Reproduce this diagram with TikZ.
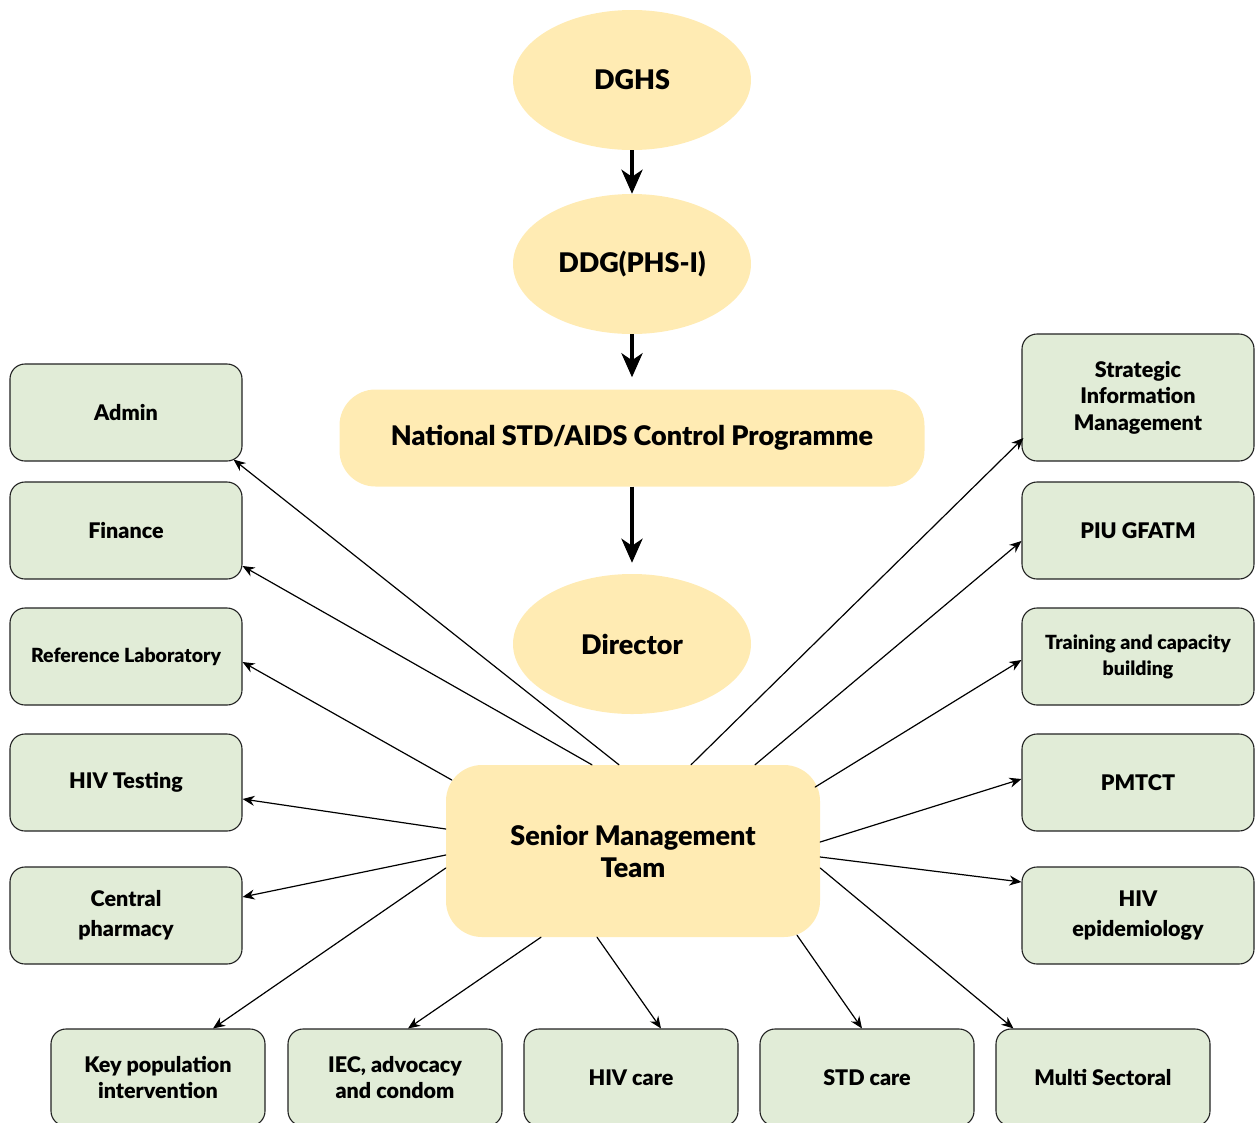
\documentclass[tikz,border=0pt]{standalone}
\usepackage{fontspec}
\setmainfont{Lato}[BoldFont={Lato Black}]
\usepackage{tikz}
\usetikzlibrary{arrows.meta, calc}
\usetikzlibrary{shapes.geometric}
\definecolor{giallo}{HTML}{FFEBB3}
\definecolor{verde}{HTML}{E1ECD7}
\definecolor{bordo}{HTML}{222222}

\begin{document}
\begin{tikzpicture}[x=1pt, y=-1pt, line cap=round,
  capo/.style={ellipse, fill=giallo, minimum width=238pt, minimum height=140pt, inner sep=0pt, font=\fontsize{27}{31}\selectfont\bfseries},
  centro/.style={rounded corners=36pt, fill=giallo, inner sep=0pt, align=center, font=\fontsize{27}{32}\selectfont\bfseries},
  ufficio/.style={draw=bordo, line width=1.1pt, rounded corners=15pt, fill=verde, minimum width=232pt, minimum height=97pt, inner sep=0pt, align=center, font=\fontsize{21.5}{26.5}\selectfont\bfseries},
  basso/.style={ufficio, minimum width=214pt},
  grossa/.style={-{Stealth[length=24pt,width=21pt,inset=7pt]}, line width=4pt, line cap=butt},
  freccia/.style={-{Stealth[length=12pt,width=10pt]}, line width=1.2pt}]

\useasboundingbox (0,0) rectangle (1255,1122);

% Catena principale
\node[capo] (dghs) at (632,80) {DGHS};
\node[capo] (ddg) at (632,264) {DDG(PHS-I)};
\node[centro, minimum width=585pt, minimum height=97pt] (nacp) at (632,438) {National STD/AIDS Control Programme};
\node[capo] (dir) at (632,644) {Director};
\node[centro, minimum width=374pt, minimum height=172pt] (smt) at (633,851) {Senior Management\\Team};

\draw[grossa] (dghs) -- (ddg);
\draw[grossa, shorten >=12pt] (ddg) -- (nacp);
\draw[grossa, shorten >=11pt] (nacp) -- (dir);

% Colonna sinistra
\node[ufficio] (admin) at (126,412.5) {Admin};
\node[ufficio] (fin) at (126,530.5) {Finance};
\node[ufficio, font=\fontsize{19.5}{24}\selectfont\bfseries] (lab) at (126,656.5) {Reference Laboratory};
\node[ufficio] (test) at (126,782.5) {HIV Testing};
\node[ufficio, font=\fontsize{21.5}{30}\selectfont\bfseries] (farm) at (126,915.5) {Central\\pharmacy};

% Colonna destra
\node[ufficio, minimum height=127pt] (sim) at (1138,397.5) {Strategic\\Information\\Management};
\node[ufficio] (piu) at (1138,530.5) {PIU GFATM};
\node[ufficio, font=\fontsize{19.5}{26}\selectfont\bfseries] (train) at (1138,656.5) {Training and capacity\\building};
\node[ufficio] (pmtct) at (1138,782.5) {PMTCT};
\node[ufficio, font=\fontsize{21.5}{30}\selectfont\bfseries] (epi) at (1138,915.5) {HIV\\epidemiology};

% Riga in basso
\node[basso] (kpi) at (158,1077.5) {Key population\\intervention};
\node[basso] (iec) at (395,1077.5) {IEC, advocacy\\and condom};
\node[basso] (care) at (631,1077.5) {HIV care};
\node[basso] (std) at (867,1077.5) {STD care};
\node[basso] (multi) at (1103,1077.5) {Multi Sectoral};

% Frecce dal Senior Management Team
\draw[freccia] ($(smt.north)+(-14,0)$) -- ($(admin.south east)+(-9,-2)$);
\draw[freccia] ($(smt.north)+(-41,0)$) -- ($(fin.east)+(0,35.5)$);
\draw[freccia] ($(smt.west)+(6,-71)$) -- ($(lab.east)+(0,5.5)$);
\draw[freccia] ($(smt.west)+(0,-22)$) -- ($(test.east)+(0,16.5)$);
\draw[freccia] ($(smt.west)+(0,4)$) -- ($(farm.east)+(0,-18.5)$);
\draw[freccia] ($(smt.west)+(0,17)$) -- ($(kpi.north)+(55,0)$);
\draw[freccia] ($(smt.south)+(-92,0)$) -- ($(iec.north)+(13,0)$);
\draw[freccia] ($(smt.south)+(-36,0)$) -- ($(care.north)+(30,0)$);
\draw[freccia] ($(smt.south)+(164,-2)$) -- ($(std.north)+(-5,0)$);
\draw[freccia] ($(smt.east)+(0,17)$) -- ($(multi.north west)+(18,0)$);
\draw[freccia] ($(smt.east)+(0,6)$) -- ($(epi.west)+(0,-33.5)$);
\draw[freccia] ($(smt.east)+(0,-9)$) -- ($(pmtct.west)+(0,-3.5)$);
\draw[freccia] ($(smt.east)+(-5,-64)$) -- ($(train.west)+(0,3.5)$);
\draw[freccia] ($(smt.north)+(122,0)$) -- ($(piu.west)+(0,10.5)$);
\draw[freccia] ($(smt.north)+(58,0)$) -- ($(sim.west)+(2,40.5)$);

\end{tikzpicture}
\end{document}
